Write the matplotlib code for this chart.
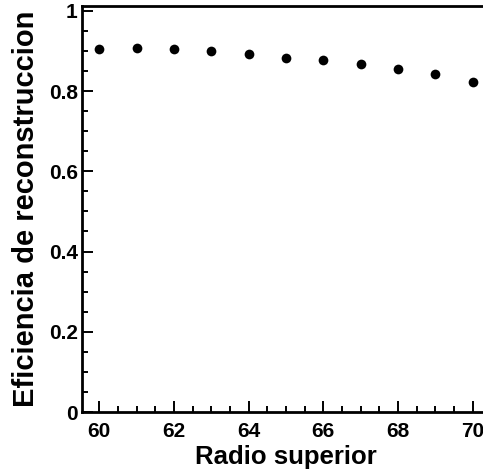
import numpy as np
import matplotlib.pyplot as plt
from matplotlib.ticker import MultipleLocator, FuncFormatter

# data
radio = [60, 61, 62, 63, 64, 65, 66, 67, 68, 69, 70]
eficiencia = [0.904, 0.9075, 0.904, 0.900, 0.892, 0.883, 0.878, 0.867, 0.854, 0.8425, 0.8225]

plt.rcParams['font.family'] = ['Liberation Sans', 'DejaVu Sans']
plt.rcParams['font.weight'] = 'bold'

fig = plt.figure(figsize=(4.83, 4.75), dpi=100)
ax = fig.add_axes([82 / 483, 63 / 475, 408 / 483, 406 / 475])

ax.plot(radio, eficiencia, 'o', color='black', markersize=7, markeredgewidth=0)

ax.set_xlim(59.54, 70.46)
ax.set_ylim(0, 1.012)

ax.xaxis.set_major_locator(MultipleLocator(2))
ax.xaxis.set_minor_locator(MultipleLocator(0.5))
ax.yaxis.set_major_locator(MultipleLocator(0.2))
ax.yaxis.set_minor_locator(MultipleLocator(0.05))
ax.yaxis.set_major_formatter(FuncFormatter(lambda v, p: '%g' % round(v, 3)))

ax.tick_params(which='both', direction='in', top=False, right=False, width=1.4)
ax.tick_params(which='major', length=8, labelsize=15)
ax.tick_params(axis='x', which='major', pad=7)
ax.tick_params(axis='y', which='major', pad=3)
ax.tick_params(which='minor', length=4)
for lab in ax.get_xticklabels() + ax.get_yticklabels():
    lab.set_fontweight('bold')

for s in ax.spines.values():
    s.set_linewidth(2)

ax.set_xlabel('Radio superior', fontsize=18.5, fontweight='bold', labelpad=3)
ax.set_ylabel('Eficiencia de reconstruccion', fontsize=21, fontweight='bold', labelpad=6)

fig.savefig('out.png', dpi=100)
